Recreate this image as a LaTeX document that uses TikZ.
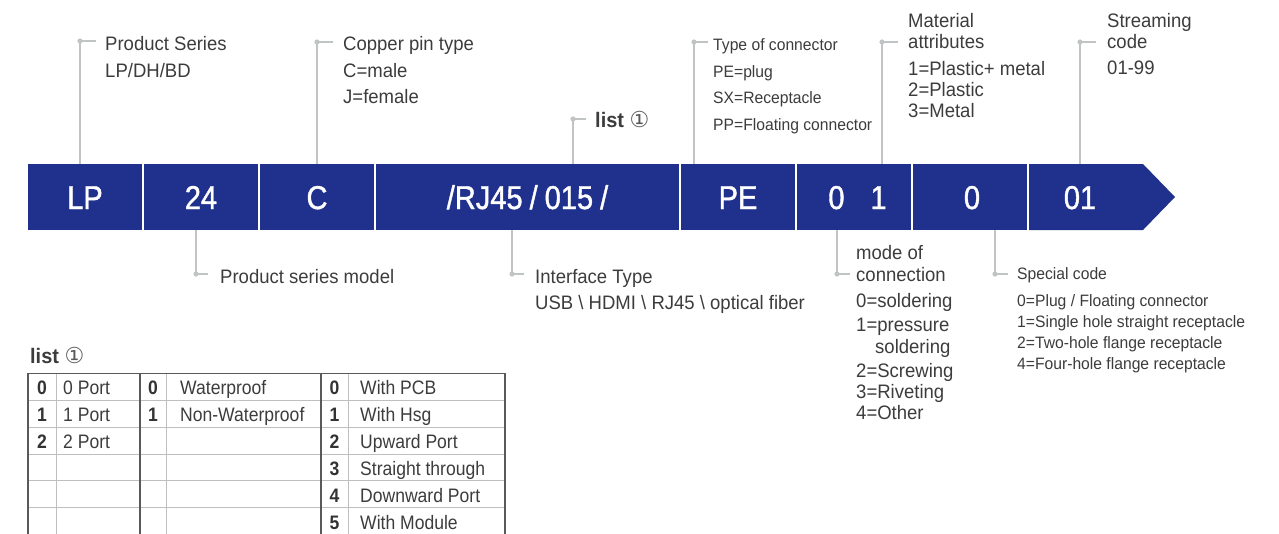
\documentclass[tikz,border=0pt]{standalone}
\usepackage{fontspec}
\setmainfont{Liberation Sans}
\newfontfamily\lblfont[FakeStretch=0.95]{Liberation Sans}
\newfontfamily\barfont[FakeStretch=0.88,FakeBold=1.2]{Liberation Sans}
\newfontfamily\tabfont[FakeStretch=0.9]{Liberation Sans}
\newfontfamily\circfont{DejaVu Sans}
\definecolor{barblue}{RGB}{31,49,141}
\definecolor{labc}{RGB}{60,60,60}
\definecolor{leadc}{RGB}{192,196,196}
\definecolor{tdark}{RGB}{90,90,90}
\definecolor{tlight}{RGB}{190,192,192}
\tikzset{
  barseg/.style={fill=barblue},
  bartext/.style={anchor=base, inner sep=0, text=white, font=\barfont\fontsize{33}{34}\selectfont},
  lbl/.style={anchor=base west, inner sep=0, text=labc, font=\lblfont\fontsize{19.5}{20}\selectfont},
  lbls/.style={anchor=base west, inner sep=0, text=labc, font=\lblfont\fontsize{16.5}{17}\selectfont},
  listlbl/.style={anchor=base west, inner sep=0, text=labc, font=\lblfont\bfseries\fontsize{21}{22}\selectfont},
  leader/.style={draw=leadc, line width=1.4pt},
  dotc/.style={fill=leadc},
  tabtxt/.style={anchor=base west, inner sep=0, text=labc, font=\tabfont\fontsize{19.5}{20}\selectfont},
  tabnum/.style={anchor=base, inner sep=0, text=black!80, font=\tabfont\bfseries\fontsize{19.5}{20}\selectfont},
  tabdark/.style={draw=tdark, line width=1.3pt},
  tablight/.style={draw=tlight, line width=1pt},
}
\newcommand{\circone}{{\circfont\mdseries\fontsize{22}{23}\selectfont\color{labc!85}①}}
\begin{document}
\begin{tikzpicture}[x=1pt,y=-1pt]
\useasboundingbox (0,0) rectangle (1279,533);

% ---- bar ----
\fill[barseg] (28,164) rectangle (142,230);
\fill[barseg] (144,164) rectangle (258,230);
\fill[barseg] (260,164) rectangle (374,230);
\fill[barseg] (376,164) rectangle (679,230);
\fill[barseg] (681,164) rectangle (795,230);
\fill[barseg] (797,164) rectangle (911,230);
\fill[barseg] (913,164) rectangle (1027,230);
\fill[barseg] (1029,164) -- (1143,164) -- (1175,197) -- (1143,230) -- (1029,230) -- cycle;

\node[bartext] (tLP) at (85,209) {LP};
\node[bartext] (t24) at (201,209) {24};
\node[bartext] (tC) at (317,209) {C};
\node[bartext] (tRJ) at (527.5,209) {/RJ45\hspace{7pt}/\hspace{7pt}015\hspace{7pt}/};
\node[bartext] (tPE) at (738,209) {PE};
\node[bartext] (t01a) at (857.5,209) {0\hspace{26pt}1};
\node[bartext] (t0) at (972,209) {0};
\node[bartext] (t01) at (1080,209) {01};

% ---- top leaders ----
\foreach \x/\y/\e/\n in {80/41/96/a, 317/42/333/b, 573/119/586/c, 694/42/708/d, 882/42/898/e, 1080/42/1096/f}{
  \coordinate (top\n) at (\x,164);
  \coordinate (dot\n) at (\x,\y);
  \coordinate (end\n) at (\e,\y);
  \draw[leader] (top\n) -- (dot\n) -- (end\n);
  \fill[dotc] (dot\n) circle (2.6);
}
% ---- bottom leaders ----
\foreach \x/\e/\n in {196/208/g, 512/524/h, 837/850/i, 995/1008/j}{
  \coordinate (bot\n) at (\x,230);
  \coordinate (dot\n) at (\x,274);
  \coordinate (end\n) at (\e,274);
  \draw[leader] (bot\n) -- (dot\n) -- (end\n);
  \fill[dotc] (dot\n) circle (2.6);
}

% ---- top labels ----
\node[lbl] (ps1) at (105,50) {Product Series};
\node[lbl] (ps2) at (105,77) {LP/DH/BD};

\node[lbl] (cp1) at (343,50) {Copper pin type};
\node[lbl] (cp2) at (343,77) {C=male};
\node[lbl] (cp3) at (343,103) {J=female};

\node[listlbl] (li1) at (595,127) {list \circone};

\node[lbls] (tc1) at (713,50) {Type of connector};
\node[lbls] (tc2) at (713,77) {PE=plug};
\node[lbls] (tc3) at (713,103) {SX=Receptacle};
\node[lbls] (tc4) at (713,130) {PP=Floating connector};

\node[lbl] (ma1) at (908,27) {Material};
\node[lbl] (ma2) at (908,48) {attributes};
\node[lbl] (ma3) at (908,75) {1=Plastic+ metal};
\node[lbl] (ma4) at (908,96.5) {2=Plastic};
\node[lbl] (ma5) at (908,117.5) {3=Metal};

\node[lbl] (sc1) at (1107,27) {Streaming};
\node[lbl] (sc2) at (1107,48) {code};
\node[lbl] (sc3) at (1107,74) {01-99};

% ---- bottom labels ----
\node[lbl] (pm1) at (220,283) {Product series model};

\node[lbl] (it1) at (535,283) {Interface Type};
\node[lbl] (it2) at (535,309) {USB \textbackslash\ HDMI \textbackslash\ RJ45 \textbackslash\ optical fiber};

\node[lbl] (mc1) at (856,259) {mode of};
\node[lbl] (mc2) at (856,281) {connection};
\node[lbl] (mc3) at (856,307) {0=soldering};
\node[lbl] (mc4) at (856,331) {1=pressure};
\node[lbl] (mc5) at (875,353) {soldering};
\node[lbl] (mc6) at (856,377) {2=Screwing};
\node[lbl] (mc7) at (856,398) {3=Riveting};
\node[lbl] (mc8) at (856,419) {4=Other};

\node[lbls] (sp1) at (1017,279) {Special code};
\node[lbls] (sp2) at (1017,306) {0=Plug / Floating connector};
\node[lbls] (sp3) at (1017,327) {1=Single hole straight receptacle};
\node[lbls] (sp4) at (1017,348) {2=Two-hole flange receptacle};
\node[lbls] (sp5) at (1017,369) {4=Four-hole flange receptacle};

% ---- table ----
\node[listlbl] (lt) at (30,363) {list \circone};

\foreach \k in {1,...,5}{
  \draw[tablight] (28,373.3+\k*26.9) -- (505,373.3+\k*26.9);
}
\foreach \x in {56,166,348}{
  \draw[tablight] (\x,373.3) -- (\x,540);
}
\draw[tabdark] (28,540) -- (28,373.3) -- (505,373.3) -- (505,540);
\draw[tabdark] (140,373.3) -- (140,540);
\draw[tabdark] (321,373.3) -- (321,540);

\foreach \r/\a/\b in {0/0/0 Port, 1/1/1 Port, 2/2/2 Port}{
  \node[tabnum] at (42,373.3+\r*26.9+21.5) {\a};
  \node[tabtxt] at (63,373.3+\r*26.9+21.5) {\b};
}
\foreach \r/\a/\b in {0/0/Waterproof, 1/1/Non-Waterproof}{
  \node[tabnum] at (153,373.3+\r*26.9+21.5) {\a};
  \node[tabtxt] at (180,373.3+\r*26.9+21.5) {\b};
}
\foreach \r/\a/\b in {0/0/With PCB, 1/1/With Hsg, 2/2/Upward Port, 3/3/Straight through, 4/4/Downward Port, 5/5/With Module}{
  \node[tabnum] at (334.5,373.3+\r*26.9+21.5) {\a};
  \node[tabtxt] at (360,373.3+\r*26.9+21.5) {\b};
}
\end{tikzpicture}
\end{document}
